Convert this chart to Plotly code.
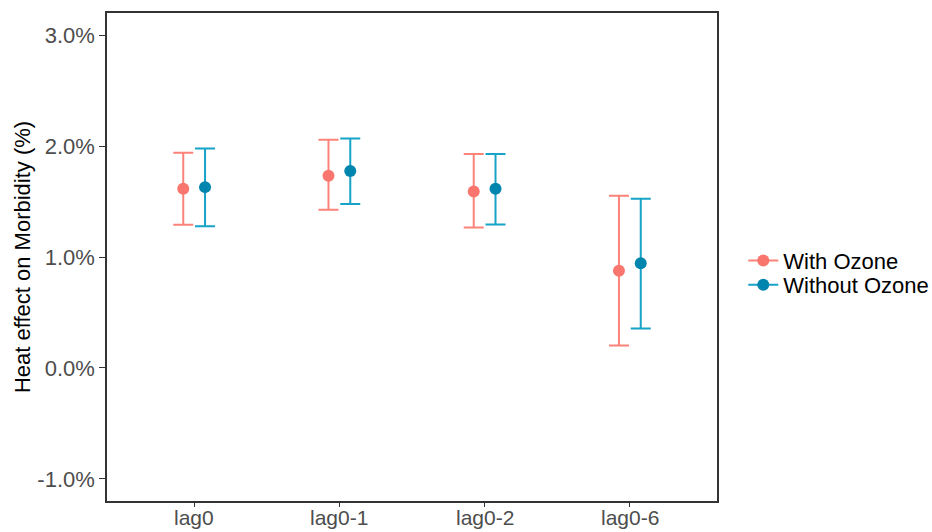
import plotly.graph_objects as go

categories = ["lag0", "lag0-1", "lag0-2", "lag0-6"]
with_est = [1.615, 1.732, 1.591, 0.875]
with_lo = [1.290, 1.425, 1.266, 0.201]
with_hi = [1.940, 2.057, 1.928, 1.552]
without_est = [1.630, 1.775, 1.615, 0.944]
without_lo = [1.278, 1.477, 1.293, 0.355]
without_hi = [1.979, 2.069, 1.928, 1.525]
y_ticks = [-1.0, 0.0, 1.0, 2.0, 3.0]
y_tick_labels = ["-1.0%", "0.0%", "1.0%", "2.0%", "3.0%"]
series_names = ["With Ozone", "Without Ozone"]

FONT = "Liberation Sans, Arial, sans-serif"
DODGE = 0.075
pos = list(range(1, len(categories) + 1))

series = [
    (series_names[0], with_est, with_lo, with_hi, -DODGE, "#F8766D", "#FB8379", "legend"),
    (series_names[1], without_est, without_lo, without_hi, DODGE, "#0085AE", "#17A2C8", "legend2"),
]

fig = go.Figure()
for name, est, lo, hi, off, pcol, bcol, leg in series:
    fig.add_trace(go.Scatter(
        x=[p + off for p in pos], y=est, mode="markers", name=name,
        marker=dict(color=pcol, size=12),
        error_y=dict(type="data", symmetric=False,
                     array=[h - e for h, e in zip(hi, est)],
                     arrayminus=[e - l for e, l in zip(est, lo)],
                     color=bcol, thickness=2, width=10),
        showlegend=False,
    ))
    fig.add_trace(go.Scatter(
        x=[None], y=[None], mode="lines+markers", name=name,
        marker=dict(color=pcol, size=12), line=dict(color=bcol, width=2),
        legend=leg, showlegend=True,
    ))

axis_common = dict(showline=True, mirror=True, linecolor="#333333", linewidth=1.5,
                   ticks="outside", tickwidth=1.3, tickcolor="#333333",
                   showgrid=False, zeroline=False, automargin=False,
                   tickfont=dict(family=FONT, size=22, color="#4D4D4D"))

legend_common = dict(xref="container", yref="container", x=0.7975, xanchor="left",
                     yanchor="middle", font=dict(family=FONT, size=22, color="black"),
                     bgcolor="rgba(0,0,0,0)")

# category labels below the x axis (drawn as text annotations to sit close to the axis)
for p, cat in zip(pos, categories):
    fig.add_annotation(x=p, xref="x", y=0, yref="paper", yanchor="top", yshift=-3,
                       text=cat, showarrow=False,
                       font=dict(family=FONT, size=21, color="#4D4D4D"))

fig.update_layout(
    width=932, height=532,
    margin=dict(l=107, r=215, t=13, b=31),
    plot_bgcolor="white", paper_bgcolor="white",
    font=dict(family=FONT),
    xaxis=dict(range=[0.4, len(categories) + 0.6], tickvals=pos, ticktext=categories,
               showticklabels=False, ticklen=4, **axis_common),
    yaxis=dict(range=[-1.2, 3.2], tickvals=y_ticks, ticktext=y_tick_labels, ticklen=6,
               title=dict(text="Heat effect on Morbidity (%)", standoff=1,
                          font=dict(family=FONT, size=22, color="black")),
               **axis_common),
    legend=dict(y=0.5100, **legend_common),
    legend2=dict(y=0.4643, **legend_common),
)

fig.write_html("out.html")
